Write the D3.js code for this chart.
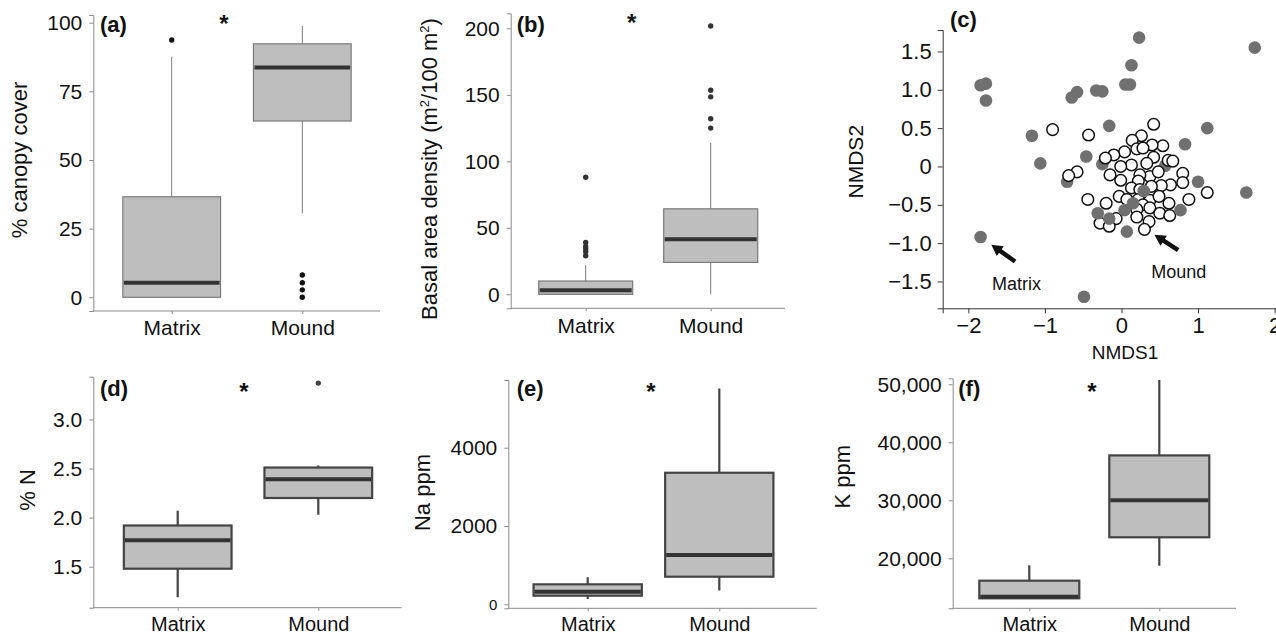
<!DOCTYPE html>
<html>
<head>
<meta charset="utf-8">
<script src="https://cdn.jsdelivr.net/npm/d3@7"></script>
<style>
  body { margin: 0; background: #fff; }
  svg { font-family: "Liberation Sans", Arial, sans-serif; display: block; }
</style>
</head>
<body>
<div id="chart"></div>
<script>
// ---- data ----
const groups = ["Matrix", "Mound"];

// (a) % canopy cover
const canopyBoxes = [
  { group: "Matrix", lo: 0, q1: 0, med: 5.3, q3: 36.6, hi: 87.6 },
  { group: "Mound", lo: 30.6, q1: 64.2, med: 83.7, q3: 92.3, hi: 98.8 }
];
const canopyOutliers = [["Matrix", 93.7], ["Mound", 8.1], ["Mound", 5.3], ["Mound", 2.7], ["Mound", 0]];
const canopyTicks = [0, 25, 50, 75, 100];

// (b) basal area density
const basalBoxes = [
  { group: "Matrix", lo: 0, q1: 0, med: 3, q3: 10, hi: 22 },
  { group: "Mound", lo: 0, q1: 24, med: 41.5, q3: 64.3, hi: 114 }
];
const basalOutliers = [["Matrix", 29], ["Matrix", 32], ["Matrix", 34], ["Matrix", 36], ["Matrix", 39], ["Matrix", 88],
  ["Mound", 125], ["Mound", 132], ["Mound", 148.5], ["Mound", 153.5], ["Mound", 201.7]];
const basalTicks = [0, 50, 100, 150, 200];

// (c) NMDS ordination
const matrixPts = [[0.23,1.68],[1.74,1.55],[0.13,1.32],[-1.84,1.06],[-1.77,1.08],[-1.77,0.86],[-0.65,0.90],[-0.58,0.97],
  [-0.33,0.99],[-0.25,0.98],[0.05,1.07],[0.11,1.07],[-0.16,0.53],[-1.17,0.40],[-1.06,0.04],[1.12,0.50],[0.83,0.29],
  [-0.46,0.13],[-0.25,0.03],[0.57,0.01],[-0.71,-0.20],[1.0,-0.20],[1.63,-0.34],[-1.84,-0.92],[-0.49,-1.70]];
const moundPts = [[-0.90,0.48],[-0.43,0.41],[0.42,0.55],[0.26,0.40],[0.14,0.34],[0.54,0.27],[0.40,0.28],[0.20,0.23],
  [0.28,0.24],[0.04,0.19],[-0.10,0.15],[-0.21,0.11],[0.42,0.12],[0.33,0.04],[0.61,0.08],[0.67,0.07],[0.13,0.02],
  [-0.01,0.0],[-0.15,-0.11],[-0.58,-0.07],[-0.69,-0.12],[0.80,-0.09],[0.37,-0.13],[0.24,-0.11],[0.48,-0.07],
  [-0.01,-0.18],[0.22,-0.19],[0.13,-0.28],[0.80,-0.21],[0.64,-0.24],[0.52,-0.25],[0.39,-0.26],[0.24,-0.30],
  [1.12,-0.34],[0.88,-0.43],[-0.03,-0.39],[0.07,-0.43],[0.22,-0.43],[-0.44,-0.43],[-0.20,-0.48],[0.37,-0.44],
  [0.49,-0.39],[0.62,-0.48],[0.28,-0.50],[0.37,-0.54],[0.20,-0.56],[-0.07,-0.68],[0.20,-0.66],[0.50,-0.61],
  [0.63,-0.64],[-0.28,-0.74],[-0.16,-0.78],[0.36,-0.72],[0.30,-0.82]];
// matrix points drawn over the mound cloud
const matrixTopPts = [[0.29,-0.32],[0.15,-0.48],[0.04,-0.57],[-0.31,-0.61],[-0.16,-0.68],[0.77,-0.57],[0.07,-0.85]];
const nmdsXTicks = [-2, -1, 0, 1, 2];
const nmdsYTicks = [-1.5, -1, -0.5, 0, 0.5, 1, 1.5];

// (d) % N
const nBoxes = [
  { group: "Matrix", lo: 1.19, q1: 1.48, med: 1.77, q3: 1.92, hi: 2.07 },
  { group: "Mound", lo: 2.03, q1: 2.2, med: 2.39, q3: 2.51, hi: 2.53 }
];
const nOutliers = [["Mound", 3.37]];
const nTicks = [1.5, 2.0, 2.5, 3.0];

// (e) Na ppm
const naBoxes = [
  { group: "Matrix", lo: 135, q1: 220, med: 322, q3: 510, hi: 690 },
  { group: "Mound", lo: 350, q1: 705, med: 1260, q3: 3360, hi: 5515 }
];
const naTicks = [0, 2000, 4000];

// (f) K ppm
const kBoxes = [
  { group: "Matrix", lo: 13100, q1: 13100, med: 13380, q3: 16140, hi: 18800 },
  { group: "Mound", lo: 18720, q1: 23620, med: 30000, q3: 37740, hi: 50740 }
];
const kTicks = [20000, 30000, 40000, 50000];

// ---- drawing ----
let width = 1276, height = 636;
let svg = d3.select("#chart").append("svg").attr("width", width).attr("height", height);

function boxPanel(cfg) {
  let g = svg.append("g");
  let x = d3.scalePoint().domain(groups).range(cfg.cats);
  let y = d3.scaleLinear().domain(cfg.yDomain).range([cfg.bottom, cfg.top]);

  // axes
  let ya = g.append("g").attr("transform", "translate(" + cfg.left + ",0)")
    .call(d3.axisLeft(y).tickValues(cfg.ticks).tickSize(4).tickPadding(7).tickFormat(cfg.fmt || d3.format("d")));
  ya.select(".domain").attr("stroke", "#8a8a8a");
  ya.selectAll(".tick line").attr("stroke", "#8a8a8a");
  ya.selectAll(".tick text").attr("font-size", 21).attr("fill", "#111").attr("font-family", "Liberation Sans, Arial, sans-serif");
  if (cfg.smallZero) ya.selectAll(".tick text").filter(d => d === 0).attr("font-size", 15);

  let xa = g.append("g").attr("transform", "translate(0," + cfg.bottom + ")")
    .call(d3.axisBottom(x).tickSize(3).tickPadding(cfg.xPad));
  xa.select(".domain").attr("d", "M" + cfg.left + ",0H" + cfg.right).attr("stroke", "#8a8a8a");
  xa.selectAll(".tick line").attr("stroke", "#8a8a8a");
  xa.selectAll(".tick text").attr("font-size", cfg.xFont || 21).attr("fill", "#111").attr("font-family", "Liberation Sans, Arial, sans-serif");

  // whiskers
  g.selectAll(".wh").data(cfg.boxes).enter().append("path")
    .attr("d", d => "M" + x(d.group) + "," + y(d.hi) + "V" + y(d.q3) + "M" + x(d.group) + "," + y(d.q1) + "V" + y(d.lo))
    .attr("stroke", cfg.whiskColor).attr("stroke-width", cfg.whiskW).attr("fill", "none");

  // boxes
  g.selectAll(".box").data(cfg.boxes).enter().append("rect")
    .attr("x", d => x(d.group) - cfg.boxW / 2)
    .attr("y", d => y(d.q3))
    .attr("width", cfg.boxW)
    .attr("height", d => y(d.q1) - y(d.q3))
    .attr("fill", "#bebebe")
    .attr("stroke", cfg.boxStroke)
    .attr("stroke-width", cfg.boxStrokeW);

  // medians
  g.selectAll(".med").data(cfg.boxes).enter().append("line")
    .attr("x1", d => x(d.group) - cfg.boxW / 2 + 1)
    .attr("x2", d => x(d.group) + cfg.boxW / 2 - 1)
    .attr("y1", d => y(d.med)).attr("y2", d => y(d.med))
    .attr("stroke", "#333").attr("stroke-width", 4);

  // outliers
  g.selectAll(".out").data(cfg.outliers || []).enter().append("circle")
    .attr("cx", d => x(d[0])).attr("cy", d => y(d[1]))
    .attr("r", 2.7).attr("fill", cfg.outColor || "#222");

  // y label
  g.append("text")
    .attr("transform", "translate(" + cfg.label[0] + "," + cfg.label[1] + ") rotate(-90)")
    .attr("text-anchor", "middle").attr("font-size", 22).attr("fill", "#111")
    .html(cfg.labelText);

  // panel tag and significance star
  g.append("text").attr("x", cfg.tag[0]).attr("y", cfg.tag[1])
    .attr("font-size", 22).attr("font-weight", "bold").attr("fill", "#111").text(cfg.tagText);
  g.append("text").attr("x", cfg.star[0]).attr("y", cfg.star[1]).attr("text-anchor", "middle")
    .attr("font-size", 24).attr("font-weight", "bold").attr("fill", "#111").text("*");
}

let thin = { whiskColor: "#7a7a7a", whiskW: 1, boxStroke: "#7a7a7a", boxStrokeW: 1.2 };
let thick = { whiskColor: "#444", whiskW: 2.2, boxStroke: "#444", boxStrokeW: 2.2 };

boxPanel(Object.assign({
  left: 93.3, right: 380, top: 15, bottom: 311, yDomain: [-5, 102.8], cats: [171.7, 302.3], boxW: 97.7,
  ticks: canopyTicks, boxes: canopyBoxes, outliers: canopyOutliers, outColor: "#111", xPad: 6,
  label: [27, 160], labelText: "% canopy cover", tag: [100, 32], tagText: "(a)", star: [224, 32]
}, thin));

boxPanel(Object.assign({
  left: 510.7, right: 785, top: 13.3, bottom: 308.3, yDomain: [-10.5, 211.3], cats: [585.7, 710.7], boxW: 94,
  ticks: basalTicks, boxes: basalBoxes, outliers: basalOutliers, outColor: "#333", xPad: 6.5,
  label: [437, 169], labelText: "Basal area density (m<tspan dy='-8' font-size='13'>2</tspan><tspan dy='8'>/100 m</tspan><tspan dy='-8' font-size='13'>2</tspan><tspan dy='8'>)</tspan>",
  tag: [516.7, 32], tagText: "(b)", star: [631.7, 30.5]
}, thin));

boxPanel(Object.assign({
  left: 93.3, right: 401.7, top: 376.7, bottom: 607.7, yDomain: [1.083, 3.435], cats: [177.7, 318.3], boxW: 107.7,
  ticks: nTicks, fmt: d3.format(".1f"), boxes: nBoxes, outliers: nOutliers, outColor: "#444", xPad: 6.6, xFont: 20,
  label: [35, 490], labelText: "% N", tag: [100, 396], tagText: "(d)", star: [244, 400]
}, thick));

boxPanel(Object.assign({
  left: 508.3, right: 816.7, top: 380, bottom: 608.3, yDomain: [-102, 5729], cats: [587.7, 719.3], boxW: 108.3,
  ticks: naTicks, boxes: naBoxes, smallZero: true, xPad: 6, xFont: 20,
  label: [430, 492.5], labelText: "Na ppm", tag: [516.7, 396], tagText: "(e)", star: [651, 400]
}, thick));

boxPanel(Object.assign({
  left: 952.7, right: 1236, top: 378.3, bottom: 608.3, yDomain: [11379, 51034], cats: [1029.3, 1159.3], boxW: 100,
  ticks: kTicks, fmt: d3.format(","), boxes: kBoxes, xPad: 6, xFont: 20,
  label: [850, 476.7], labelText: "K ppm", tag: [958.3, 396], tagText: "(f)", star: [1092, 400]
}, thick));

// ---- (c) NMDS scatter ----
{
  let left = 942.7, top = 30, bottom = 308.3;
  let x = d3.scaleLinear().domain([-2.335, 2.07]).range([left, 1280]);
  let y = d3.scaleLinear().domain([-1.85, 1.78]).range([bottom, top]);
  let g = svg.append("g");

  let xa = g.append("g").attr("transform", "translate(0," + bottom + ")")
    .call(d3.axisBottom(x).tickValues(nmdsXTicks).tickSize(5).tickPadding(4).tickFormat(d3.format("d")));
  let ya = g.append("g").attr("transform", "translate(" + left + ",0)")
    .call(d3.axisLeft(y).tickValues(nmdsYTicks).tickSize(5).tickPadding(6)
      .tickFormat(d => d === 0 ? "0" : d3.format(".1f")(d)));
  [xa, ya].forEach(a => {
    a.select(".domain").attr("stroke", "#333");
    a.selectAll(".tick line").attr("stroke", "#333");
    a.selectAll(".tick text").attr("font-size", 22).attr("fill", "#111").attr("font-family", "Liberation Sans, Arial, sans-serif");
  });

  g.selectAll(".mp").data(matrixPts).enter().append("circle")
    .attr("cx", d => x(d[0])).attr("cy", d => y(d[1])).attr("r", 6.3).attr("fill", "#707070");
  g.selectAll(".op").data(moundPts).enter().append("circle")
    .attr("cx", d => x(d[0])).attr("cy", d => y(d[1])).attr("r", 5.8)
    .attr("fill", "#fff").attr("stroke", "#111").attr("stroke-width", 1.5);
  g.selectAll(".mt").data(matrixTopPts).enter().append("circle")
    .attr("cx", d => x(d[0])).attr("cy", d => y(d[1])).attr("r", 6.3).attr("fill", "#707070");

  // arrows (tail -> tip, in data units)
  let arrows = [
    { from: [-1.39, -1.24], to: [-1.70, -1.02] },
    { from: [0.74, -1.09], to: [0.43, -0.89] }
  ];
  arrows.forEach(a => {
    let p0 = [x(a.from[0]), y(a.from[1])], p1 = [x(a.to[0]), y(a.to[1])];
    let dx = p1[0] - p0[0], dy = p1[1] - p0[1], len = Math.hypot(dx, dy);
    let ux = dx / len, uy = dy / len, nx = -uy, ny = ux;
    let hl = 11, hw = 12;
    let b = [p1[0] - ux * hl, p1[1] - uy * hl];
    g.append("line").attr("x1", p0[0]).attr("y1", p0[1]).attr("x2", b[0] + ux * 2).attr("y2", b[1] + uy * 2)
      .attr("stroke", "#111").attr("stroke-width", 4.5);
    g.append("polygon")
      .attr("points", [p1, [b[0] + nx * hw / 2, b[1] + ny * hw / 2], [b[0] - nx * hw / 2, b[1] - ny * hw / 2]].map(p => p.join(",")).join(" "))
      .attr("fill", "#111");
  });

  g.append("text").attr("x", x(-1.69)).attr("y", y(-1.61)).attr("font-size", 18).attr("fill", "#111").text("Matrix");
  g.append("text").attr("x", x(0.39)).attr("y", y(-1.45)).attr("font-size", 18).attr("fill", "#111").text("Mound");

  g.append("text").attr("transform", "translate(863,161.7) rotate(-90)").attr("text-anchor", "middle")
    .attr("font-size", 21).attr("fill", "#111").text("NMDS2");
  g.append("text").attr("x", 1125).attr("y", 359).attr("text-anchor", "middle")
    .attr("font-size", 19).attr("fill", "#111").text("NMDS1");
  g.append("text").attr("x", 950).attr("y", 27).attr("font-size", 22).attr("font-weight", "bold").attr("fill", "#111").text("(c)");
}
</script>
</body>
</html>
